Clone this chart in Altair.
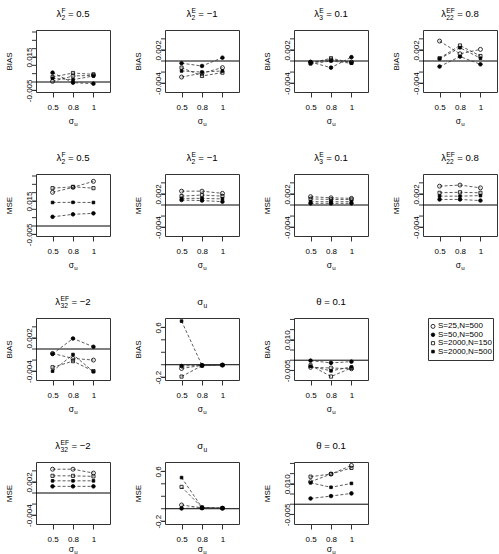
import altair as alt
import pandas as pd

# ---------------- data ----------------
sigma_u = ["0.5", "0.8", "1"]
series = ["S=25,N=500", "S=50,N=500", "S=2000,N=150", "S=2000,N=500"]

# each: one row per series (order above), values at sigma_u = 0.5, 0.8, 1
bias_lam2_F = [[0.0004, 0.0036, 0.0040], [0.0056, -0.0004, -0.0010],
               [0.0030, 0.0054, 0.0046], [0.0022, 0.0014, 0.0036]]
bias_lam2_E = [[-0.0029, -0.0022, -0.0012], [-0.0004, -0.0009, 0.0006],
               [-0.0012, -0.0027, -0.0021], [-0.0018, -0.0020, -0.0018]]
bias_lam3_E = [[-0.0002, 0.0002, -0.0002], [-0.0002, -0.0012, 0.0007],
               [-0.0004, 0.0005, -0.0003], [-0.0005, 0.0000, -0.0004]]
bias_lam22_EF = [[0.0036, 0.0013, 0.0021], [-0.0010, 0.0008, -0.0006],
                 [0.0005, 0.0028, 0.0009], [0.0004, 0.0024, 0.0005]]
mse_lam2_F = [[0.0202, 0.0232, 0.0268], [0.0055, 0.0070, 0.0076],
              [0.0227, 0.0235, 0.0227], [0.0141, 0.0142, 0.0141]]
mse_lam2_E = [[0.0025, 0.0025, 0.0021], [0.0009, 0.0008, 0.0006],
              [0.0016, 0.0018, 0.0016], [0.0012, 0.0012, 0.0011]]
mse_lam3_E = [[0.0015, 0.0013, 0.0012], [0.0003, 0.0003, 0.0003],
              [0.0011, 0.0010, 0.0010], [0.0006, 0.0006, 0.0006]]
mse_lam22_EF = [[0.0034, 0.0036, 0.0031], [0.0010, 0.0010, 0.0008],
                [0.0022, 0.0023, 0.0022], [0.0016, 0.0016, 0.0017]]
bias_lam32_EF = [[-0.0008, -0.0017, -0.0020], [-0.0009, 0.0019, 0.0004],
                 [-0.0033, -0.0022, -0.0040], [-0.0040, -0.0010, -0.0041]]
bias_sigma_u = [[-0.06, -0.01, -0.005], [-0.02, -0.01, -0.005],
                [-0.19, -0.015, -0.005], [0.70, -0.01, -0.005]]
bias_theta = [[-0.0035, -0.0038, -0.0042], [-0.0002, -0.0013, -0.0007],
              [-0.0025, -0.0080, -0.0038], [-0.0030, -0.0052, -0.0033]]
mse_lam32_EF = [[0.0043, 0.0043, 0.0036], [0.0012, 0.0012, 0.0012],
                [0.0031, 0.0031, 0.0030], [0.0022, 0.0022, 0.0022]]
mse_sigma_u = [[0.06, 0.015, 0.01], [0.005, 0.01, 0.008],
               [0.35, 0.02, 0.01], [0.50, 0.02, 0.01]]
mse_theta = [[0.0110, 0.0148, 0.0190], [0.0028, 0.0040, 0.0053],
             [0.0135, 0.0148, 0.0178], [0.0105, 0.0083, 0.0102]]

# y-axis types: domain, all tick positions, labelled ticks, format
Y_KINDS = {
    "A": ([-0.006, 0.0312], [-0.005, 0, 0.005, 0.01, 0.015, 0.02, 0.025, 0.03],
          [-0.005, 0.015], ".3f"),
    "B": ([-0.0056, 0.0056], [-0.004, -0.002, 0, 0.002, 0.004],
          [-0.004, 0.002], ".3f"),
    "C": ([-0.245, 0.75], [-0.2, 0, 0.2, 0.4, 0.6],
          [-0.2, 0.2, 0.6], ".1f"),
    "D": ([-0.0097, 0.0207], [-0.005, 0, 0.005, 0.01, 0.015, 0.02],
          [-0.005, 0.01], ".3f"),
}

# titles: (main, superscript, subscript, rest)
rows_spec = [
    [(("λ", "F", "2", "= 0.5"), "BIAS", bias_lam2_F, "A"),
     (("λ", "E", "2", "= −1"), "BIAS", bias_lam2_E, "B"),
     (("λ", "E", "3", "= 0.1"), "BIAS", bias_lam3_E, "B"),
     (("λ", "EF", "22", "= 0.8"), "BIAS", bias_lam22_EF, "B")],
    [(("λ", "F", "2", "= 0.5"), "MSE", mse_lam2_F, "A"),
     (("λ", "E", "2", "= −1"), "MSE", mse_lam2_E, "B"),
     (("λ", "E", "3", "= 0.1"), "MSE", mse_lam3_E, "B"),
     (("λ", "EF", "22", "= 0.8"), "MSE", mse_lam22_EF, "B")],
    [(("λ", "EF", "32", "= −2"), "BIAS", bias_lam32_EF, "B"),
     (("σ", "", "u", ""), "BIAS", bias_sigma_u, "C"),
     (("θ = 0.1", "", "", ""), "BIAS", bias_theta, "D")],
    [(("λ", "EF", "32", "= −2"), "MSE", mse_lam32_EF, "B"),
     (("σ", "", "u", ""), "MSE", mse_sigma_u, "C"),
     (("θ = 0.1", "", "", ""), "MSE", mse_theta, "D")],
]

# ---------------- styling ----------------
FONT = "Liberation Sans, Arial, Helvetica, sans-serif"
W, H = 74, 62
EM = {"λ": 0.5, "σ": 0.617, "θ": 0.556, "u": 0.556, "F": 0.611, "E": 0.667,
      "=": 0.584, " ": 0.278, ".": 0.278, "−": 0.584}


def tw(s, fs):
    return sum(EM.get(c, 0.556) for c in s) * fs


ONE = pd.DataFrame({"k": [0]})


def txt(s, x, y, fs, op=1):
    return alt.Chart(ONE).mark_text(
        align="left", baseline="alphabetic", font=FONT, fontSize=fs, color="black",
        opacity=op
    ).encode(x=alt.value(x), y=alt.value(y), text=alt.value(s))


def math_label(parts, y0, fs, fss, sup_dy, sub_dy, op=1):
    main, sup, sub, rest = parts
    gap = EM[" "] * fs
    wm = tw(main, fs)
    ws = max(tw(sup, fss), tw(sub, fss))
    wr = (gap + tw(rest, fs)) if rest else 0
    x0 = W / 2 - (wm + ws + wr) / 2
    out = [txt(main, x0, y0, fs, op)]
    if sup:
        out.append(txt(sup, x0 + wm + 0.3, y0 + sup_dy, fss, op))
    if sub:
        out.append(txt(sub, x0 + wm + 0.3, y0 + sub_dy, fss, op))
    if rest:
        out.append(txt(rest, x0 + wm + ws + gap, y0, fs, op))
    return out


SHAPE = alt.Scale(domain=series, range=["circle", "circle", "square", "square"])
FILL = alt.Scale(domain=series, range=["transparent", "black", "transparent", "black"])
SIZE = alt.Scale(domain=series, range=[16, 7, 17, 17])


def panel(title, ylab, vals, kind, last_row):
    dom, ticks, labelled, fmt = Y_KINDS[kind]
    df = pd.DataFrame([
        {"sigma": sigma_u[j], "series": series[i], "v": vals[i][j]}
        for i in range(len(series)) for j in range(len(sigma_u))
    ])
    x = alt.X("sigma:N", sort=sigma_u,
              scale=alt.Scale(type="point", domain=sigma_u, padding=0.81),
              axis=alt.Axis(title=None, labelAngle=0, tickSize=5, labelPadding=6,
                            labelAlign="center", labelBaseline="top"))
    yscale = alt.Scale(domain=dom, nice=False, zero=False)
    y = alt.Y("v:Q", scale=yscale,
              axis=alt.Axis(values=labelled, format=fmt, title=ylab,
                            labelAngle=270, labelAlign="center",
                            labelBaseline="alphabetic", tickSize=4, labelPadding=1,
                            titlePadding=12, labelOverlap=False, labelFlush=False,
                            labelExpr="replace(datum.label, '−', '-')"))
    tick_df = pd.DataFrame({"t": ticks})
    minor = alt.Chart(tick_df).mark_rule(color="#333", strokeWidth=1).encode(
        y=alt.Y("t:Q", scale=yscale), x=alt.value(-4), x2=alt.value(0))
    rule = alt.Chart(ONE).mark_rule(color="black", strokeWidth=1).encode(y=alt.datum(0))
    base = alt.Chart(df)
    lines = base.mark_line(strokeDash=[3, 2], strokeWidth=0.8, color="#333").encode(
        x=x, y=y, detail="series:N")
    pts = base.mark_point(stroke="black", strokeWidth=0.8, opacity=1).encode(
        x=x, y=y,
        shape=alt.Shape("series:N", scale=SHAPE, legend=None),
        fill=alt.Fill("series:N", scale=FILL, legend=None),
        size=alt.Size("series:N", scale=SIZE, legend=None),
    )
    texts = math_label(title, -13, 9.6, 6.7, -3.8, 2.5)
    xt = H + (28 if last_row else 32)
    texts += math_label(("σ", "", "u", ""), xt, 8.5, 6.2, 0, 2.2)
    return alt.layer(minor, rule, lines, pts, *texts).properties(width=W, height=H)


def legend_panel():
    ldf = pd.DataFrame({"series": series})
    ly = alt.Y("series:N", sort=series,
               scale=alt.Scale(type="point", domain=series, padding=1.25), axis=None)
    sym = alt.Chart(ldf).mark_point(stroke="black", strokeWidth=0.8, opacity=1).encode(
        x=alt.value(5), y=ly,
        shape=alt.Shape("series:N", scale=SHAPE, legend=None),
        fill=alt.Fill("series:N", scale=FILL, legend=None),
        size=alt.Size("series:N", scale=SIZE, legend=None),
    )
    lab = alt.Chart(ldf).mark_text(
        align="left", baseline="middle", font=FONT, fontSize=8, color="black"
    ).encode(x=alt.value(10), y=ly, text="series:N")
    # invisible spacers so the box sits where the reference has it
    spacers = [txt(".", -36, 20, 8, 0)]
    spacers += math_label(("λ", "EF", "32", "= −2"), -11, 9.6, 6.7, -3.8, 2.5, 0)
    return alt.layer(sym, lab, *spacers).properties(width=65, height=42)


rows = []
for k, r in enumerate(rows_spec):
    cells = [panel(*p, k == 3) for p in r]
    if k == 2:
        cells.append(legend_panel())
    rows.append(alt.hconcat(*cells, spacing=22))

chart = alt.vconcat(*rows, spacing=23).properties(
    padding={"left": 4, "top": 7, "right": 0, "bottom": 0}
).configure_view(stroke="#333", strokeWidth=1).configure_axis(
    labelFont=FONT, titleFont=FONT, labelFontSize=8, titleFontSize=8,
    titleFontWeight="normal", labelColor="black", titleColor="black",
    tickColor="#333", grid=False, domain=False
)

chart.save("out.html", embed_options={"renderer": "svg", "actions": False})
